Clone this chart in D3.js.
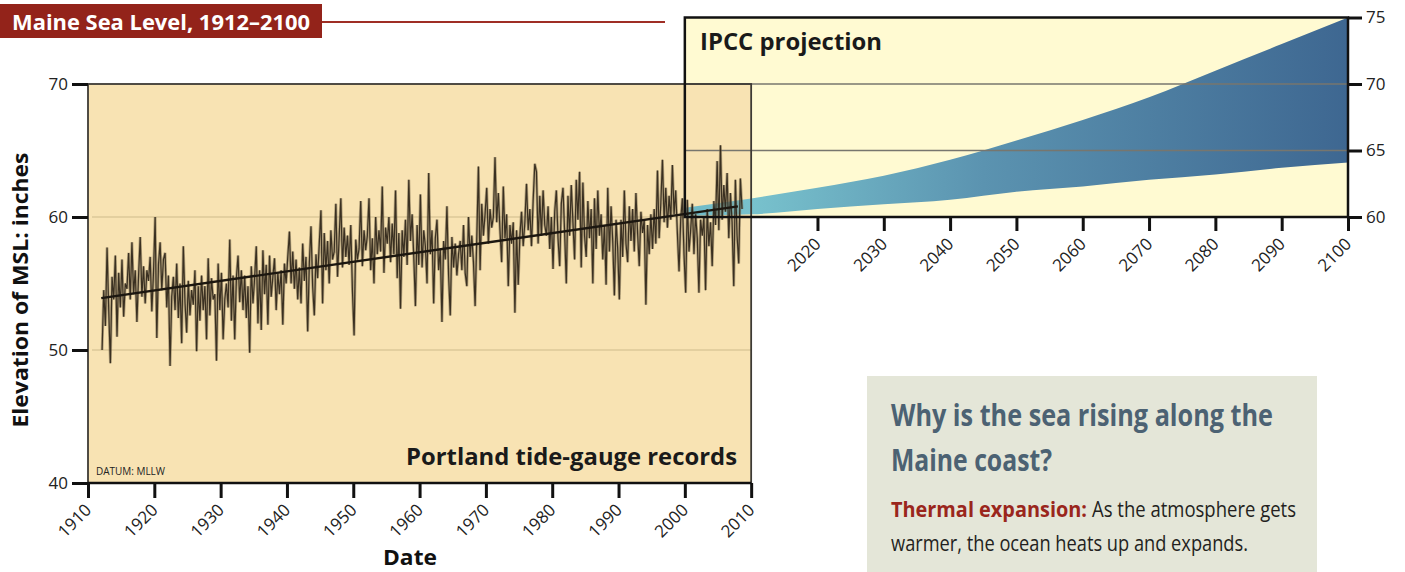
<!DOCTYPE html>
<html><head><meta charset="utf-8">
<script src="https://cdn.jsdelivr.net/npm/d3@7"></script>
<style>body{margin:0;background:#fff}svg{display:block;font-family:"Open Sans",sans-serif}</style>
</head><body><svg id="c" width="1405" height="572"></svg>
<script>
// ---- DATA ----
const gaugeStartYear = 1912; // four readings per year (quarters), inches above MLLW
const gaugeQuarterly = [
 50.0,54.5,51.8,57.7, 53.0,49.0,55.5,53.8, 57.1,51.0,55.8,53.2, 56.8,52.5,55.0,54.6,
 57.3,53.8,58.1,54.2, 56.0,52.1,55.6,58.5, 54.0,56.3,53.5,56.0, 55.2,57.0,52.9,55.8,
 60.0,50.9,56.4,58.1, 54.5,56.8,57.3,53.2, 55.6,48.8,54.0,55.5, 53.0,56.5,52.4,55.0,
 50.5,57.8,53.6,51.3, 55.2,52.6,54.5,53.4, 56.0,49.9,54.8,52.2, 55.6,53.0,54.8,50.8,
 56.9,52.6,55.4,53.8, 54.2,49.2,56.5,53.0, 55.8,50.8,53.8,55.0, 53.2,58.3,52.2,55.6,
 50.8,55.4,57.1,53.6, 56.0,53.0,55.6,52.4, 54.8,49.8,56.3,53.5, 55.4,57.8,52.0,56.0,
 51.5,57.5,54.2,56.4, 51.9,57.1,54.0,55.5, 56.9,53.0,55.8,54.2, 56.0,51.9,56.5,55.0,
 57.0,58.9,55.0,57.4, 54.6,56.8,53.8,56.2, 53.5,58.0,55.2,57.0, 51.4,56.5,59.3,54.8,
 52.6,57.2,55.4,58.0, 60.5,53.5,58.8,56.0, 58.2,55.0,59.0,56.8, 57.4,61.0,55.5,58.5,
 61.4,56.2,59.2,57.0, 58.6,56.4,59.4,54.5, 51.1,58.3,56.8,57.6, 61.2,56.3,59.0,57.5,
 58.6,61.4,56.0,58.4, 55.0,60.0,57.2,59.0, 57.4,62.3,55.8,59.2, 58.0,60.0,56.6,59.5,
 57.2,62.0,55.4,58.8, 53.1,59.0,57.0,59.8, 56.4,62.8,58.2,60.2, 57.0,53.3,59.4,56.4,
 61.7,56.2,59.0,57.8, 55.0,63.3,57.2,59.0, 53.5,58.4,59.8,56.0, 57.6,52.1,58.2,56.8,
 60.8,55.6,52.6,58.5, 56.2,58.0,55.6,57.2, 58.2,56.0,59.4,55.8, 54.8,60.0,57.0,58.6,
 56.6,53.3,58.4,63.8, 56.0,61.0,58.6,60.2, 62.2,58.0,60.6,59.2, 60.0,64.5,59.6,61.8,
 59.0,56.6,62.3,58.4, 60.2,54.8,59.4,58.0, 59.6,52.8,59.0,54.9, 58.6,60.4,57.8,59.6,
 62.5,59.0,60.6,57.8, 61.2,64.0,63.4,58.0, 61.6,58.6,62.0,59.4, 58.6,60.8,57.6,60.0,
 56.1,60.4,62.0,58.4, 56.3,61.0,62.2,58.8, 55.0,61.6,58.6,62.4, 59.6,56.8,62.8,59.8,
 63.4,56.2,62.6,58.6, 57.0,61.2,58.4,60.6, 55.0,61.4,57.6,62.0, 58.6,60.2,56.8,59.4,
 54.9,62.2,57.4,60.8, 58.2,54.1,59.8,57.6, 53.8,59.8,57.0,62.0, 58.0,56.6,60.8,58.2,
 60.6,57.4,61.8,58.8, 56.3,60.4,58.8,59.8, 53.4,59.4,57.2,60.2, 57.6,60.6,58.0,63.5,
 58.4,61.0,64.3,59.6, 62.2,59.2,61.6,59.8, 63.9,60.2,62.0,58.8, 55.9,59.8,61.4,57.2,
 54.3,61.3,57.4,59.0, 61.0,57.2,60.2,58.4, 54.3,59.8,58.6,60.0, 54.5,60.6,57.8,59.6,
 56.3,61.2,59.4,64.2, 59.0,65.4,59.8,62.4, 60.4,63.3,58.4,61.8, 59.6,54.8,62.8,58.6,
 56.5,62.9,60.6
];
const trendYears = [1912, 2008];
const trendValues = [53.9, 60.8];
const projYears = [2000, 2010, 2020, 2030, 2040, 2050, 2060, 2070, 2080, 2090, 2100];
const projUpper = [60.7, 61.4, 62.2, 63.1, 64.3, 65.75, 67.3, 69.0, 71.0, 73.0, 75.0];
const projLower = [60.1, 60.2, 60.6, 60.95, 61.3, 61.9, 62.3, 62.8, 63.2, 63.7, 64.1];
const histTicks = [1910, 1920, 1930, 1940, 1950, 1960, 1970, 1980, 1990, 2000, 2010];
const projTicks = [2020, 2030, 2040, 2050, 2060, 2070, 2080, 2090, 2100];
const leftTicks = [40, 50, 60, 70];
const rightTicks = [60, 65, 70, 75];
const histGrid = [50, 60];
const projGrid = [65, 70];

// ---- DRAW ----
const svg = d3.select("#c");
const x = d3.scaleLinear().domain([1910, 2100]).range([88, 1348]);
const y = d3.scaleLinear().domain([40, 75]).range([483, 17.5]);

const defs = svg.append("defs");
const grad = defs.append("linearGradient").attr("id", "fan")
  .attr("gradientUnits", "userSpaceOnUse")
  .attr("x1", x(2000)).attr("x2", x(2100)).attr("y1", 0).attr("y2", 0);
[[0, "#6fb9c6"], [0.1, "#78c2cd"], [0.45, "#5b93b0"], [1, "#3e6791"]].forEach(([o, c]) =>
  grad.append("stop").attr("offset", o).attr("stop-color", c));

// title
svg.append("rect").attr("x", 0).attr("y", 4).attr("width", 322).attr("height", 34).attr("fill", "#93231a");
svg.append("line").attr("x1", 322).attr("x2", 665).attr("y1", 22).attr("y2", 22)
  .attr("stroke", "#9f2e25").attr("stroke-width", 2);
svg.append("text").attr("x", 12).attr("y", 30).attr("fill", "#fff").attr("font-weight", 700)
  .attr("font-size", 22).attr("textLength", 298).attr("lengthAdjust", "spacingAndGlyphs")
  .text("Maine Sea Level, 1912–2100");

// projection panel fill
svg.append("rect").attr("x", x(2000)).attr("y", y(75)).attr("width", x(2100) - x(2000))
  .attr("height", y(60) - y(75)).attr("fill", "#fffad2");
// history panel fill
svg.append("rect").attr("x", x(1910)).attr("y", y(70)).attr("width", x(2010) - x(1910))
  .attr("height", y(40) - y(70)).attr("fill", "#f8e3b3");
svg.selectAll(".hg").data(histGrid).join("line").attr("x1", x(1910) + 4).attr("x2", x(2010))
  .attr("y1", d => y(d)).attr("y2", d => y(d)).attr("stroke", "#dcc899").attr("stroke-width", 1.5);

// fan
svg.append("path").datum(projYears.map((t, i) => ({ t, lo: projLower[i], hi: projUpper[i] })))
  .attr("fill", "url(#fan)")
  .attr("d", d3.area().x(d => x(d.t)).y0(d => y(d.lo)).y1(d => y(d.hi)).curve(d3.curveMonotoneX));

// projection grid
svg.selectAll(".pg").data(projGrid).join("line").attr("x1", x(2000)).attr("x2", x(2100))
  .attr("y1", d => y(d)).attr("y2", d => y(d)).attr("stroke", "#77766e").attr("stroke-width", 1.6);

// gauge series
const pts = gaugeQuarterly.map((v, i) => ({ t: gaugeStartYear + (i + 0.5) / 4, v }));
const line = d3.line().x(d => x(d.t)).y(d => y(d.v));
svg.append("path").datum(pts).attr("d", line).attr("fill", "none")
  .attr("stroke", "#7a6c4f").attr("stroke-width", 2.8).attr("stroke-opacity", 0.55);
svg.append("path").datum(pts).attr("d", line).attr("fill", "none")
  .attr("stroke", "#241c12").attr("stroke-width", 1.2).attr("stroke-opacity", 0.85);
// trend
svg.append("path").datum(trendYears.map((t, i) => ({ t, v: trendValues[i] })))
  .attr("d", line).attr("fill", "none").attr("stroke", "#1c1710").attr("stroke-width", 2.4);

// borders
svg.append("rect").attr("x", x(1910)).attr("y", y(70)).attr("width", x(2010) - x(1910))
  .attr("height", y(40) - y(70)).attr("fill", "none").attr("stroke", "#3d3a35").attr("stroke-width", 1.8);
svg.append("rect").attr("x", x(2000)).attr("y", y(75)).attr("width", x(2100) - x(2000))
  .attr("height", y(60) - y(75)).attr("fill", "none").attr("stroke", "#111").attr("stroke-width", 2.5);

// axes
function styleAxis(g) {
  g.select(".domain").remove();
  g.selectAll(".tick line").attr("stroke", "#111").attr("stroke-width", 3);
  g.selectAll(".tick text").attr("fill", "#222").attr("font-size", 17)
   .attr("font-family", '"Open Sans",sans-serif');
}
svg.append("g").attr("transform", `translate(${x(1910)},0)`)
  .call(d3.axisLeft(y).tickValues(leftTicks).tickSize(16).tickPadding(4)).call(styleAxis);
svg.append("g").attr("transform", `translate(${x(2100)},0)`)
  .call(d3.axisRight(y).tickValues(rightTicks).tickSize(14).tickPadding(4)).call(styleAxis);

function rotLabels(g) {
  g.selectAll(".tick text").attr("x", 0).attr("y", 0).attr("dy", 0)
   .attr("text-anchor", "end").attr("transform", "translate(4,28) rotate(-45)");
}
const gb = svg.append("g").attr("transform", `translate(0,${y(40)})`)
  .call(d3.axisBottom(x).tickValues(histTicks).tickFormat(d3.format("d")).tickSize(15)).call(styleAxis).call(rotLabels);
gb.append("line").attr("x1", x(1910)).attr("x2", x(2010)).attr("stroke", "#111").attr("stroke-width", 2.5);
svg.append("g").attr("transform", `translate(0,${y(60)})`)
  .call(d3.axisBottom(x).tickValues(projTicks).tickFormat(d3.format("d")).tickSize(14)).call(styleAxis).call(rotLabels);

// axis titles
svg.append("text").attr("transform", "translate(28,290) rotate(-90)").attr("text-anchor", "middle")
  .attr("font-weight", 700).attr("font-size", 21).attr("fill", "#111")
  .attr("textLength", 275).attr("lengthAdjust", "spacingAndGlyphs").text("Elevation of MSL: inches");
svg.append("text").attr("x", 410).attr("y", 565).attr("text-anchor", "middle")
  .attr("font-weight", 700).attr("font-size", 21).attr("fill", "#111")
  .attr("textLength", 54).attr("lengthAdjust", "spacingAndGlyphs").text("Date");

// panel labels
svg.append("text").attr("x", 700).attr("y", 50).attr("font-weight", 700).attr("font-size", 23)
  .attr("fill", "#1a1a1a").attr("textLength", 182).attr("lengthAdjust", "spacingAndGlyphs").text("IPCC projection");
svg.append("text").attr("x", 406).attr("y", 465).attr("font-weight", 700).attr("font-size", 23)
  .attr("fill", "#1a1a1a").attr("textLength", 331).attr("lengthAdjust", "spacingAndGlyphs").text("Portland tide-gauge records");
svg.append("text").attr("x", 96).attr("y", 475).attr("font-size", 10).attr("fill", "#222")
  .attr("textLength", 69).attr("lengthAdjust", "spacingAndGlyphs").text("DATUM: MLLW");

// info box
svg.append("rect").attr("x", 867).attr("y", 376).attr("width", 450).attr("height", 200).attr("fill", "#e4e6d8");
svg.append("text").attr("x", 891).attr("y", 426).attr("font-weight", 700).attr("font-size", 30)
  .attr("fill", "#4c6273").attr("textLength", 382).attr("lengthAdjust", "spacingAndGlyphs")
  .text("Why is the sea rising along the");
svg.append("text").attr("x", 891).attr("y", 471).attr("font-weight", 700).attr("font-size", 30)
  .attr("fill", "#4c6273").attr("textLength", 161).attr("lengthAdjust", "spacingAndGlyphs")
  .text("Maine coast?");
svg.append("text").attr("x", 891).attr("y", 517).attr("font-weight", 700).attr("font-size", 22)
  .attr("fill", "#9a261c").attr("textLength", 196).attr("lengthAdjust", "spacingAndGlyphs")
  .text("Thermal expansion:");
svg.append("text").attr("x", 1092).attr("y", 517).attr("font-size", 22)
  .attr("fill", "#231f20").attr("textLength", 204).attr("lengthAdjust", "spacingAndGlyphs")
  .text("As the atmosphere gets");
svg.append("text").attr("x", 891).attr("y", 551).attr("font-size", 22)
  .attr("fill", "#231f20").attr("textLength", 357).attr("lengthAdjust", "spacingAndGlyphs")
  .text("warmer, the ocean heats up and expands.");
</script></body></html>
